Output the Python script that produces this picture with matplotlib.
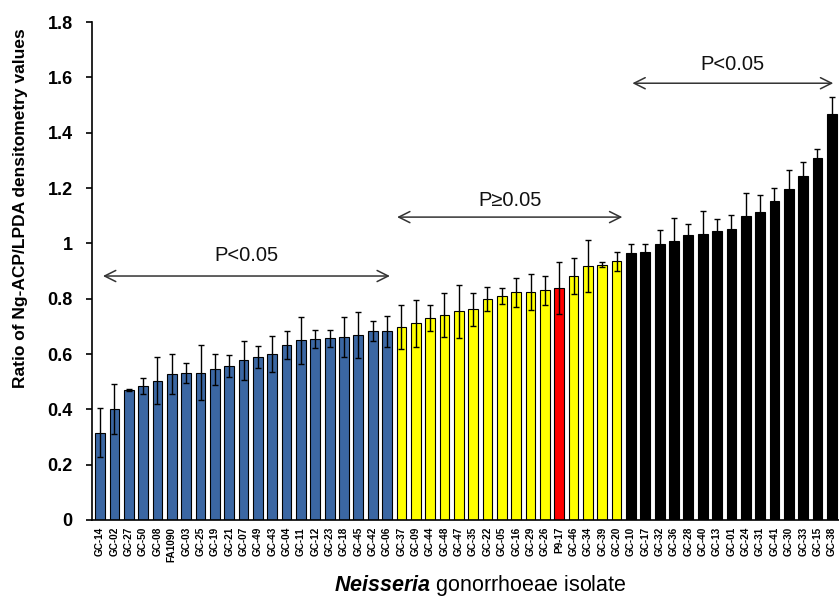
import matplotlib
matplotlib.use("Agg")
import matplotlib.pyplot as plt
import numpy as np

plt.rcParams['font.family'] = ['Liberation Sans', 'DejaVu Sans']
plt.rcParams['mathtext.fontset'] = 'custom'
plt.rcParams['mathtext.bfit'] = 'Liberation Sans:italic:bold'
plt.rcParams['mathtext.rm'] = 'Liberation Sans'

isolates = ["GC-14", "GC-02", "GC-27", "GC-50", "GC-08", "FA1090", "GC-03", "GC-25",
            "GC-19", "GC-21", "GC-07", "GC-49", "GC-43", "GC-04", "GC-11", "GC-12",
            "GC-23", "GC-18", "GC-45", "GC-42", "GC-06",
            "GC-37", "GC-09", "GC-44", "GC-48", "GC-47", "GC-35", "GC-22", "GC-05",
            "GC-16", "GC-29", "GC-26", "P9-17", "GC-46", "GC-34", "GC-39", "GC-20",
            "GC-10", "GC-17", "GC-32", "GC-36", "GC-28", "GC-40", "GC-13", "GC-01",
            "GC-24", "GC-31", "GC-41", "GC-30", "GC-33", "GC-15", "GC-38"]

ratios = [0.316, 0.400, 0.470, 0.484, 0.503, 0.528, 0.532, 0.532, 0.545, 0.557,
          0.577, 0.588, 0.600, 0.632, 0.649, 0.653, 0.657, 0.661, 0.669, 0.682, 0.682,
          0.699, 0.711, 0.730, 0.742, 0.754, 0.761, 0.798, 0.811, 0.823, 0.823, 0.831,
          0.838, 0.883, 0.919, 0.923, 0.935,
          0.964, 0.969, 0.996, 1.009, 1.029, 1.034, 1.046, 1.053, 1.098, 1.113, 1.154,
          1.195, 1.243, 1.307, 1.467]

errors = [0.090, 0.090, 0.005, 0.030, 0.085, 0.073, 0.037, 0.100, 0.056, 0.040,
          0.070, 0.040, 0.065, 0.050, 0.085, 0.033, 0.030, 0.073, 0.082, 0.036, 0.056,
          0.080, 0.084, 0.048, 0.080, 0.097, 0.058, 0.044, 0.029, 0.053, 0.065, 0.052,
          0.093, 0.065, 0.093, 0.008, 0.034,
          0.033, 0.028, 0.052, 0.083, 0.041, 0.084, 0.042, 0.048, 0.084, 0.061, 0.045,
          0.069, 0.051, 0.035, 0.063]

groups = (["low"] * 21 + ["ns"] * 11 + ["ref"] + ["ns"] * 4 + ["high"] * 15)
group_colors = {"low": "#3B67A3", "ns": "#FFFF00", "ref": "#FF0000", "high": "#000000"}

fig = plt.figure(figsize=(8.39, 5.97), dpi=100)
ax = fig.add_axes([0.1097, 0.129, 0.8903, 0.834])

x = np.arange(len(isolates))
cols = [group_colors[g] for g in groups]
ax.bar(x, ratios, width=0.68, color=cols, edgecolor="black", linewidth=0.8, zorder=2)
ax.errorbar(x, ratios, yerr=errors, fmt="none", ecolor="black", elinewidth=1.0,
            capsize=2.5, capthick=1.0, zorder=3)

ax.set_xlim(-0.56, 51.5)
ax.set_ylim(0, 1.8)
ax.set_yticks([0, 0.2, 0.4, 0.6, 0.8, 1.0, 1.2, 1.4, 1.6, 1.8])
ax.set_yticklabels(["0", "0.2", "0.4", "0.6", "0.8", "1", "1.2", "1.4", "1.6", "1.8"],
                   fontsize=13, fontweight="bold")
ax.set_xticks(x)
ax.set_xticklabels(isolates, rotation=90, fontsize=7.2, fontweight="bold")
ax.tick_params(axis="y", direction="out", length=4.5, width=1.2, pad=9.5)
ax.tick_params(axis="x", length=0, pad=5)
for s in ["top", "right"]:
    ax.spines[s].set_visible(False)
ax.spines["left"].set_linewidth(1.2)
ax.spines["bottom"].set_linewidth(1.2)

ax.set_ylabel("Ratio of Ng-ACP/LPDA densitometry values", fontsize=12.5,
              fontweight="bold")
ax.yaxis.set_label_coords(-0.086, 0.627)
fig.text(0.573, 0.02, r"$\mathbfit{Neisseria}$ gonorrhoeae isolate", ha="center",
         va="center", fontsize=15.5)

# significance arrows
arrows = [(0.2, 20.2, 0.882, "P<0.05", 0.955),
          (20.7, 36.4, 1.095, "P\u22650.05", 1.155),
          (37.1, 51.1, 1.579, "P<0.05", 1.645)]
for x0, x1, y, lab, ty in arrows:
    ax.annotate("", xy=(x0, y), xytext=(x1, y),
                arrowprops=dict(arrowstyle="<->", color="#333333", lw=1.1,
                                mutation_scale=20, shrinkA=0, shrinkB=0))
    ax.text((x0 + x1) / 2, ty, lab, ha="center", va="center", fontsize=14.5, color="#111111")

fig.savefig("out.png", dpi=100)
